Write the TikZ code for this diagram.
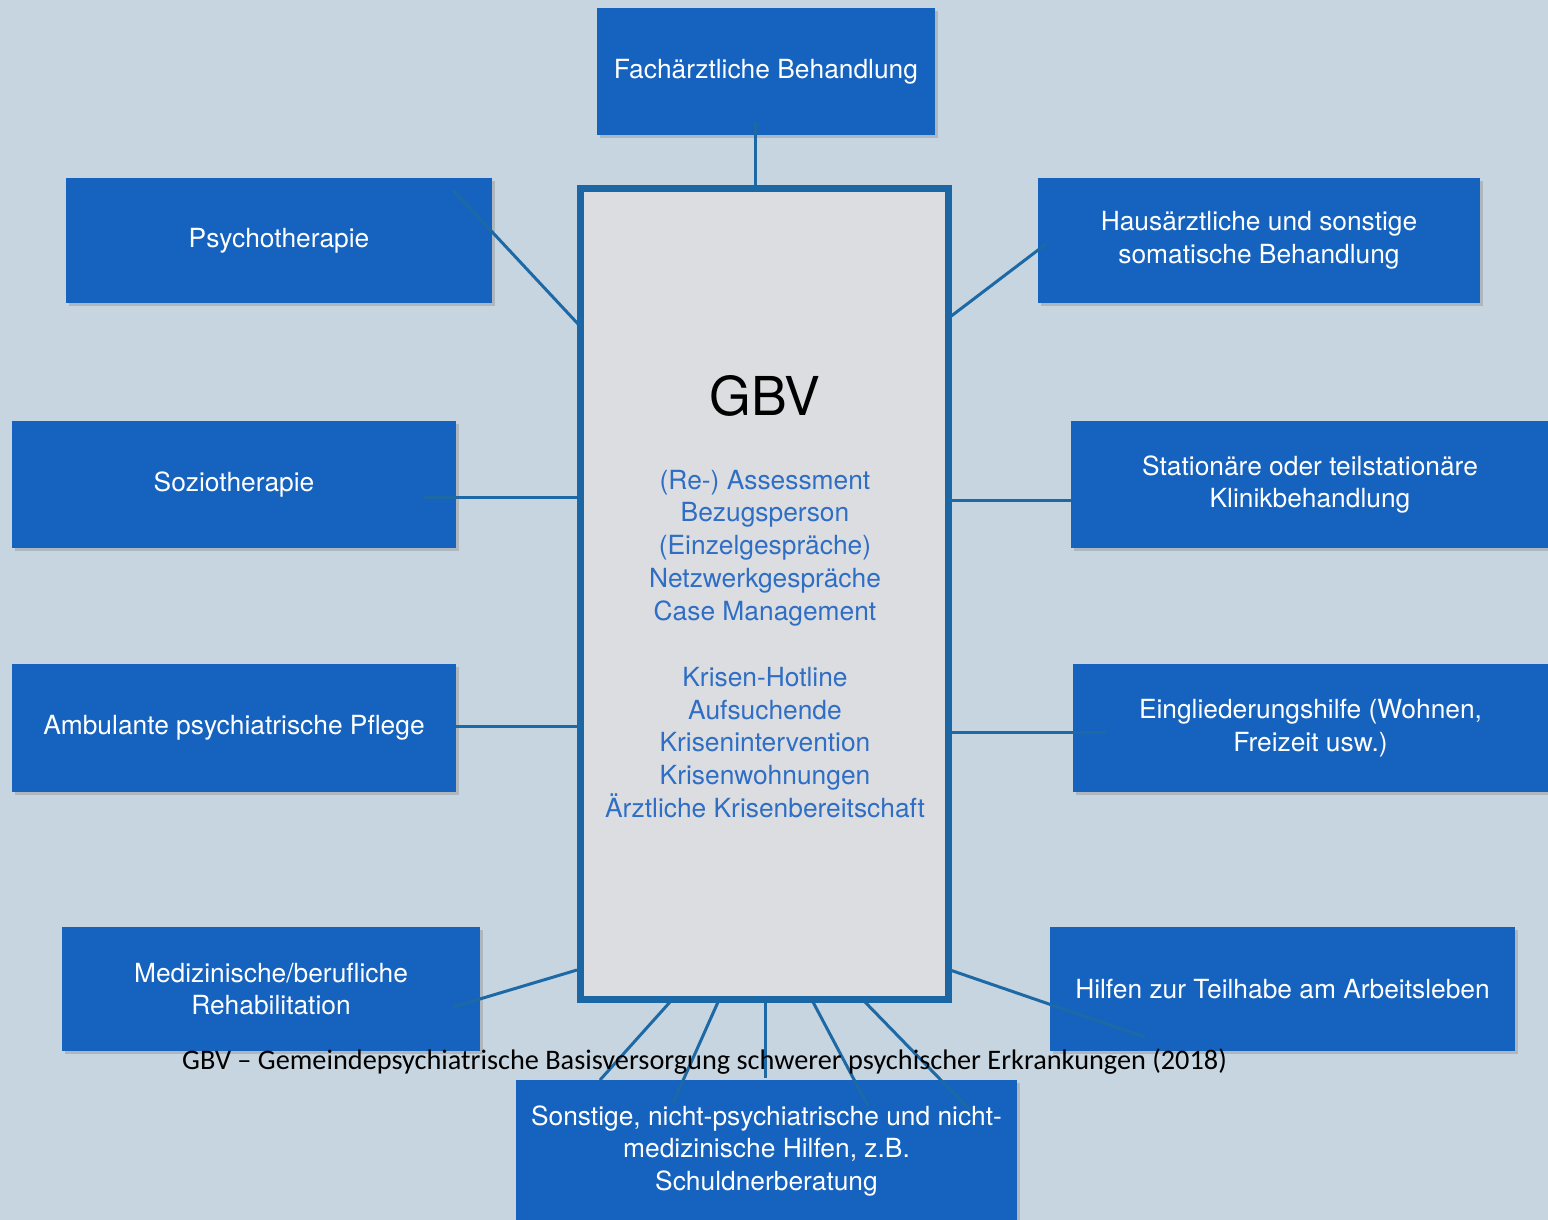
\documentclass[tikz,border=0pt]{standalone}
\usepackage{fontspec}
\setmainfont{TeX Gyre Heros}
\newfontfamily\captionfont{Carlito}
\usetikzlibrary{shadows}

\definecolor{bgcol}{HTML}{C7D5E0}
\definecolor{boxblue}{HTML}{1562BF}
\definecolor{framecol}{HTML}{1B66A5}
\definecolor{linkcol}{HTML}{1D69A6}
\definecolor{listcol}{HTML}{2E6EC4}
\definecolor{corefill}{HTML}{DCDDE1}

\begin{document}
\begin{tikzpicture}[x=0.02cm,y=-0.02cm,
  service/.style={rectangle,fill=boxblue,text=white,align=center,inner sep=0pt,font=\fontsize{15}{18.7}\selectfont,drop shadow={shadow xshift=1.5pt,shadow yshift=-1.5pt,opacity=0.35}},
  core/.style={rectangle,draw=framecol,line width=0.14cm,fill=corefill,inner sep=0pt,minimum width=7.37cm,minimum height=16.24cm,drop shadow={shadow xshift=1.5pt,shadow yshift=-1.5pt,opacity=0.3}},
  link/.style={draw=linkcol,line width=0.06cm}]

  \fill[bgcol] (0,0) rectangle (1548,1220);
  \useasboundingbox (0,0) rectangle (1548,1220);

  % boxes round the centre
  \node[service,minimum width=6.76cm,minimum height=2.54cm] (fach) at (766,71.5) {Fachärztliche Behandlung};
  \node[service,minimum width=8.52cm,minimum height=2.5cm] (psy) at (279,240.5) {Psychotherapie};
  \node[service,minimum width=8.84cm,minimum height=2.5cm] (haus) at (1259,240.5) {Hausärztliche und sonstige\\somatische Behandlung};
  \node[service,minimum width=8.88cm,minimum height=2.54cm] (sozio) at (234,484.5) {Soziotherapie};
  \node[service,minimum width=9.56cm,minimum height=2.54cm] (stat) at (1310,484.5) {Stationäre oder teilstationäre\\Klinikbehandlung};
  \node[service,minimum width=8.88cm,minimum height=2.56cm] (amb) at (234,728) {Ambulante psychiatrische Pflege};
  \node[service,minimum width=9.5cm,minimum height=2.56cm] (eing) at (1310.5,728) {Eingliederungshilfe (Wohnen,\\Freizeit usw.)};
  \node[service,minimum width=8.36cm,minimum height=2.48cm] (med) at (271,989) {Medizinische/berufliche\\Rehabilitation};
  \node[service,minimum width=9.3cm,minimum height=2.48cm] (hilf) at (1282.5,989) {Hilfen zur Teilhabe am Arbeitsleben};
  \node[service,minimum width=10.02cm,minimum height=2.84cm] (sonst) at (766.5,1151) {Sonstige, nicht-psychiatrische und nicht-\\medizinische Hilfen, z.B.\\Schuldnerberatung};

  % centre
  \node[core] (gbv) at (764.75,594) {};
  \node[font=\fontsize{30.5}{36}\selectfont] (gbvtitle) at (765,396) {GBV};
  \node[text=listcol,align=center,font=\fontsize{15}{18.7}\selectfont] (gbvlist) at (765,644)
    {(Re-) Assessment\\Bezugsperson\\(Einzelgespräche)\\Netzwerkgespräche\\Case Management\\[18.7pt]
     Krisen-Hotline\\Aufsuchende\\Krisenintervention\\Krisenwohnungen\\Ärztliche Krisenbereitschaft};

  % line ends
  \coordinate (fach-in) at (755,122);
  \coordinate (psy-in) at (453,190);
  \coordinate (psy-out) at (579,325);
  \coordinate (haus-in) at (1046,244);
  \coordinate (haus-out) at (950,317);
  \coordinate (sozio-in) at (424,497);
  \coordinate (stat-out) at (949,500);
  \coordinate (amb-out) at (581,726);
  \coordinate (eing-in) at (1107,732);
  \coordinate (med-in) at (453,1007);
  \coordinate (med-out) at (577,970);
  \coordinate (hilf-in) at (1145,1037);
  \coordinate (hilf-out) at (950,970);
  \coordinate (s1) at (670,1002);
  \coordinate (s1-in) at (600,1080);
  \coordinate (s2) at (718,1002);
  \coordinate (s2-in) at (673,1103);
  \coordinate (s3) at (765,1002);
  \coordinate (s3-in) at (765,1078);
  \coordinate (s4) at (813,1002);
  \coordinate (s4-in) at (868,1106);
  \coordinate (s5) at (865,1002);
  \coordinate (s5-in) at (970,1110);

  \draw[link] (fach-in) -- (fach-in |- gbv.north);
  \draw[link] (psy-in) -- (psy-out);
  \draw[link] (haus-in) -- (haus-out);
  \draw[link] (sozio-in) -- (sozio-in -| gbv.west);
  \draw[link] (stat-out) -- (stat-out -| stat.west);
  \draw[link] (amb-out -| amb.east) -- (amb-out);
  \draw[link] (eing-in -| gbv.east) -- (eing-in);
  \draw[link] (med-in) -- (med-out);
  \draw[link] (hilf-out) -- (hilf-in);
  \draw[link] (s1) -- (s1-in);
  \draw[link] (s2) -- (s2-in);
  \draw[link] (s3) -- (s3-in);
  \draw[link] (s4) -- (s4-in);
  \draw[link] (s5) -- (s5-in);

  \node[font=\captionfont\fontsize{16.1}{19}\selectfont] (caption) at (704.5,1062)
    {GBV – Gemeindepsychiatrische Basisversorgung schwerer psychischer Erkrankungen (2018)};
\end{tikzpicture}
\end{document}
